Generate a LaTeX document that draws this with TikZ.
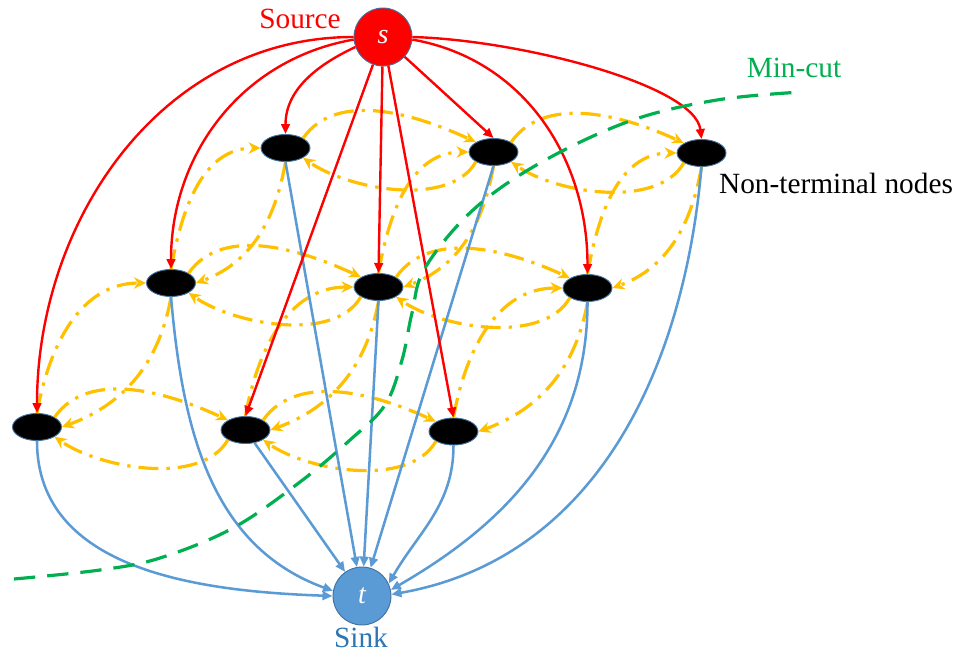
\documentclass[tikz,border=0pt]{standalone}
\usepackage{fontspec}
\setmainfont{Liberation Serif}
\newfontfamily\tnr{Liberation Serif}
\usetikzlibrary{arrows.meta,shapes.geometric}
\definecolor{yel}{HTML}{FFC000}
\definecolor{bl}{HTML}{5B9BD5}
\definecolor{edgeb}{HTML}{41719C}
\definecolor{mc}{HTML}{00B050}
\definecolor{sinkc}{HTML}{2E75B6}
\begin{document}
\begin{tikzpicture}[x=0.75pt,y=-0.75pt,
  term/.style={ellipse, fill=black, draw=edgeb, line width=0.7pt, minimum width=36.75pt, minimum height=20.25pt, inner sep=0pt},
  terminal/.style={circle, draw=edgeb, line width=0.7pt, minimum size=43.5pt, inner sep=0pt, text=white, font=\tnr\fontsize{21}{24}\selectfont\itshape},
  lab/.style={font=\tnr\fontsize{22}{26}\selectfont, inner sep=0pt},
  redarr/.style={draw=red, line width=1.8pt, -{Triangle[length=7.5pt,width=6.5pt]}},
  bluearr/.style={draw=bl, line width=1.9pt, -{Triangle[length=7.5pt,width=6.5pt]}},
  yelarr/.style={draw=yel, line width=2.4pt, dash pattern=on 15pt off 6pt on 2.5pt off 6pt, -{Stealth[length=9pt,width=8.5pt]}},
  mincut/.style={draw=mc, line width=2.4pt, dash pattern=on 16pt off 9pt}
]
\useasboundingbox (0,0) rectangle (962,655);

% terminals
\node[terminal, fill=red] (s) at (383,37) {s};
\node[terminal, fill=bl] (t) at (362,596) {t};

% non-terminal nodes
\node[term] (n00) at (285.5,148) {};
\node[term] (n01) at (493.5,152) {};
\node[term] (n02) at (701.5,153) {};
\node[term] (n10) at (171,283) {};
\node[term] (n11) at (378.5,287) {};
\node[term] (n12) at (587.5,288) {};
\node[term] (n20) at (37,427) {};
\node[term] (n21) at (245.5,430) {};
\node[term] (n22) at (453.5,431.5) {};

% yellow neighbourhood links (horizontal)
\foreach \a/\b in {n00/n01,n01/n02,n10/n11,n11/n12,n20/n21,n21/n22}{
  \draw[yelarr] (\a.north east) to[out=55,in=155,looseness=0.9] (\b.north west);
  \draw[yelarr] (\b.south west) to[out=-120,in=-35,looseness=0.8] (\a.south east);
}
% yellow neighbourhood links (diagonal)
\foreach \l/\u in {n10/n00,n11/n01,n12/n02,n20/n10,n21/n11,n22/n12}{
  \draw[yelarr] (\l.north) to[out=80,in=180] (\u.west);
  \draw[yelarr] (\u.south) to[out=-100,in=20] (\l.east);
}

% blue links to sink
\draw[bluearr] (n20.south) to[out=-90,in=178] (t.west);
\draw[bluearr] (n10.south) to[out=-85,in=160] (t.170);
\draw[bluearr] (n21) -- (t);
\draw[bluearr] (n00.south) -- (t);
\draw[bluearr] (n01.south) -- (t);
\draw[bluearr] (n11.south) -- (t);
\draw[bluearr] (n22.south) to[out=-90,in=60] (t.25);
\draw[bluearr] (n12.south) to[out=-90,in=30] (t.12);
\draw[bluearr] (n02.south) to[out=-95,in=10] (t.3);

% red links from source
\draw[redarr] (s.west) to[out=180,in=90] (n20.north);
\draw[redarr] (s.185) to[out=190,in=90] (n10.north);
\draw[redarr] (s.200) to[out=205,in=90] (n00.north);
\draw[redarr] (s) -- (n11.north);
\draw[redarr] (s) -- (n21.north);
\draw[redarr] (s) -- (n22.north);
\draw[redarr] (s) -- (n01.north);
\draw[redarr] (s.-5) to[out=-10,in=90] (n12.north);
\draw[redarr] (s.east) .. controls (520,40) and (695,85) .. (n02.north);

% min-cut
\draw[mincut] plot[smooth, tension=0.6] coordinates {(14,579) (100,570) (160,558) (233,528) (300,482) (350,440) (385,405) (402,360) (412,313) (425,268) (473,210) (540,163) (630,121) (717,100) (802,92)};

% labels
\node[lab, text=red] (srcl) at (300,19) {Source};
\node[lab, text=sinkc] (snkl) at (361,637) {Sink};
\node[lab, text=mc] (mcl) at (794,68) {Min-cut};
\node[lab, text=black] (ntl) at (836,183) {Non-terminal nodes};
\end{tikzpicture}
\end{document}
